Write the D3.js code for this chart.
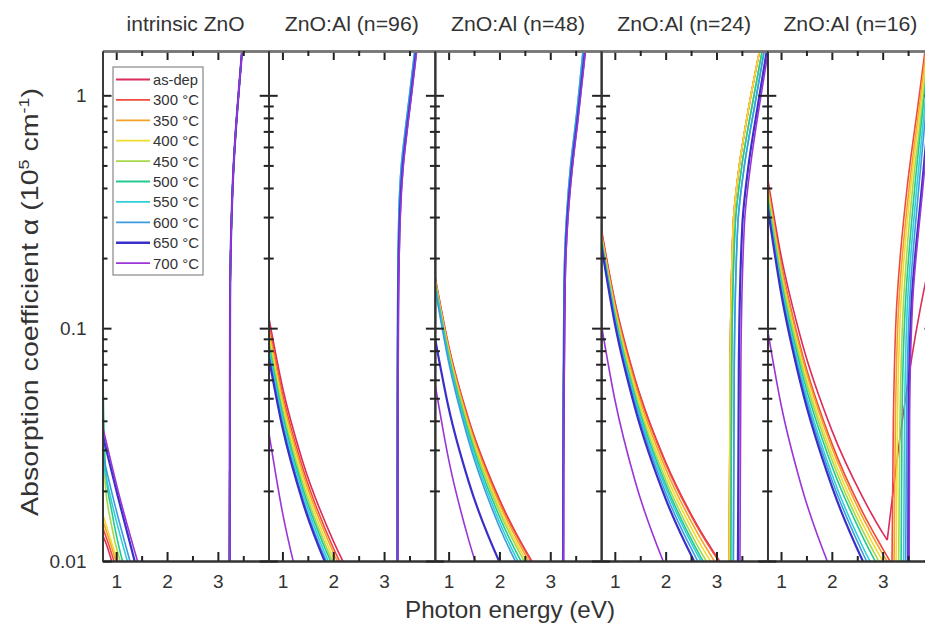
<!DOCTYPE html>
<html>
<head>
<meta charset="utf-8">
<script src="https://cdn.jsdelivr.net/npm/d3@7"></script>
<style>
    body { margin: 0; background: #fff; }
    text { font-family: "Liberation Sans", Arial, sans-serif; fill: #333; }
</style>
</head>
<body>
<div id="chart"></div>
<script>
// series and panels
const seriesNames = ["as-dep", "300 °C", "350 °C", "400 °C", "450 °C", "500 °C", "550 °C", "600 °C", "650 °C", "700 °C"];
const seriesColors = ["#dc2c5a", "#f04a3c", "#f5a02a", "#f0dc30", "#a6d84a", "#25c98f", "#2ecfd8", "#3c9be0", "#3a2fc8", "#9b35d6"];
const panelTitles = ["intrinsic ZnO", "ZnO:Al (n=96)", "ZnO:Al (n=48)", "ZnO:Al (n=24)", "ZnO:Al (n=16)"];

const xTicks = [1, 2, 3];
const xMinorTicks = [1.5, 2.5, 3.5];
const yTicks = [0.01, 0.1, 1];
const yMinorTicks = [0.02, 0.03, 0.04, 0.05, 0.06, 0.07, 0.08, 0.09, 0.2, 0.3, 0.4, 0.5, 0.6, 0.7, 0.8, 0.9];

// free-carrier part [energy eV, alpha 1e5/cm], one list per series
const intrinsicFree = [
    [[0.73, 0.013], [0.83, 0.0114], [0.95, 0.0093]],
    [[0.73, 0.014], [0.85, 0.0118], [1.0, 0.0093]],
    [[0.73, 0.015], [0.87, 0.0122], [1.04, 0.0093]],
    [[0.73, 0.016], [0.88, 0.0126], [1.07, 0.0093]],
    [[0.73, 0.07], [0.745, 0.04], [0.78, 0.022], [0.9, 0.0145], [1.12, 0.0093]],
    [[0.73, 0.085], [0.75, 0.045], [0.79, 0.025], [0.92, 0.016], [1.16, 0.0093]],
    [[0.73, 0.027], [0.95, 0.0165], [1.26, 0.0093]],
    [[0.73, 0.029], [0.98, 0.0172], [1.31, 0.0093]],
    [[0.73, 0.035], [1.03, 0.019], [1.40, 0.0093]],
    [[0.73, 0.038], [1.05, 0.0195], [1.46, 0.0093]]
];
const n96Free = [
    [[0.73, 0.112], [1.0, 0.056], [1.4, 0.0267], [2.0, 0.0122], [2.6, 0.0068]],
    [[0.73, 0.105], [1.0, 0.0525], [1.4, 0.0251], [2.0, 0.0114], [2.6, 0.0064]],
    [[0.73, 0.100], [1.0, 0.0500], [1.4, 0.0239], [2.0, 0.0109], [2.6, 0.0061]],
    [[0.73, 0.095], [1.0, 0.0475], [1.4, 0.0227], [2.0, 0.0103], [2.6, 0.0058]],
    [[0.73, 0.090], [1.0, 0.0450], [1.4, 0.0215], [2.0, 0.0098], [2.6, 0.0055]],
    [[0.73, 0.086], [1.0, 0.0430], [1.4, 0.0205], [2.0, 0.0094], [2.6, 0.0053]],
    [[0.73, 0.082], [1.0, 0.0410], [1.4, 0.0196], [2.0, 0.0089], [2.6, 0.0050]],
    [[0.73, 0.078], [1.0, 0.0390], [1.4, 0.0186], [2.0, 0.0085], [2.6, 0.0048]],
    [[0.73, 0.075], [1.0, 0.0375], [1.4, 0.0179], [2.0, 0.0082], [2.6, 0.0046]],
    [[0.73, 0.036], [1.0, 0.0162], [1.4, 0.0069]]
];
const n48Free = [
    [[0.73, 0.168], [1.0, 0.0842], [1.4, 0.0402], [2.0, 0.0184], [2.6, 0.0103], [3.2, 0.0066]],
    [[0.73, 0.166], [1.0, 0.0831], [1.4, 0.0397], [2.0, 0.0181], [2.6, 0.0102], [3.2, 0.0064]],
    [[0.73, 0.164], [1.0, 0.0817], [1.4, 0.0387], [2.0, 0.0176], [2.6, 0.0098], [3.2, 0.0062]],
    [[0.73, 0.162], [1.0, 0.0800], [1.4, 0.0376], [2.0, 0.0169], [2.6, 0.0094], [3.2, 0.0059]],
    [[0.73, 0.160], [1.0, 0.0784], [1.4, 0.0366], [2.0, 0.0163], [2.6, 0.0090], [3.2, 0.0056]],
    [[0.73, 0.157], [1.0, 0.0762], [1.4, 0.0352], [2.0, 0.0155], [2.6, 0.0085], [3.2, 0.0053]],
    [[0.73, 0.154], [1.0, 0.0740], [1.4, 0.0338], [2.0, 0.0147], [2.6, 0.0080], [3.2, 0.0049]],
    [[0.73, 0.150], [1.0, 0.0716], [1.4, 0.0324], [2.0, 0.0140], [2.6, 0.0076]],
    [[0.73, 0.091], [1.0, 0.0455], [1.4, 0.0217], [2.0, 0.0099], [2.6, 0.0056]],
    [[0.73, 0.058], [1.0, 0.0273], [1.4, 0.0122], [2.0, 0.0052]]
];
const n24Free = [
    [[0.73, 0.270], [1.0, 0.1309], [1.4, 0.0604], [2.0, 0.0266], [2.6, 0.0145], [3.2, 0.0090]],
    [[0.73, 0.265], [1.0, 0.1286], [1.4, 0.0594], [2.0, 0.0262], [2.6, 0.0143], [3.2, 0.0089]],
    [[0.73, 0.260], [1.0, 0.1250], [1.4, 0.0571], [2.0, 0.0249], [2.6, 0.0135], [3.2, 0.0083]],
    [[0.73, 0.255], [1.0, 0.1213], [1.4, 0.0549], [2.0, 0.0236], [2.6, 0.0127], [3.2, 0.0078]],
    [[0.73, 0.250], [1.0, 0.1177], [1.4, 0.0526], [2.0, 0.0224], [2.6, 0.0119], [3.2, 0.0073]],
    [[0.73, 0.245], [1.0, 0.1144], [1.4, 0.0507], [2.0, 0.0214], [2.6, 0.0113], [3.2, 0.0069]],
    [[0.73, 0.240], [1.0, 0.1115], [1.4, 0.0491], [2.0, 0.0206], [2.6, 0.0109], [3.2, 0.0066]],
    [[0.73, 0.235], [1.0, 0.1082], [1.4, 0.0473], [2.0, 0.0196], [2.6, 0.0103], [3.2, 0.0062]],
    [[0.73, 0.230], [1.0, 0.1047], [1.4, 0.0452], [2.0, 0.0185], [2.6, 0.0096], [3.2, 0.0057]],
    [[0.73, 0.105], [1.0, 0.0494], [1.4, 0.0220], [2.0, 0.0094]]
];
const n16Free = [
    [[0.73, 0.450], [1.0, 0.2052], [1.4, 0.0887], [2.0, 0.0364], [2.6, 0.0189], [3.0, 0.0132], [3.09, 0.0123]],
    [[0.73, 0.430], [1.0, 0.1910], [1.4, 0.0802], [2.0, 0.0320], [2.6, 0.0163], [3.0, 0.0113], [3.2, 0.0095]],
    [[0.73, 0.420], [1.0, 0.1855], [1.4, 0.0775], [2.0, 0.0307], [2.6, 0.0155], [3.0, 0.0107], [3.2, 0.0091]],
    [[0.73, 0.400], [1.0, 0.1759], [1.4, 0.0731], [2.0, 0.0288], [2.6, 0.0145], [3.0, 0.0100], [3.2, 0.0085]],
    [[0.73, 0.390], [1.0, 0.1697], [1.4, 0.0698], [2.0, 0.0272], [2.6, 0.0136], [3.0, 0.0093]],
    [[0.73, 0.370], [1.0, 0.1606], [1.4, 0.0659], [2.0, 0.0256], [2.6, 0.0128], [3.0, 0.0087]],
    [[0.73, 0.360], [1.0, 0.1538], [1.4, 0.0620], [2.0, 0.0236], [2.6, 0.0116], [3.0, 0.0079]],
    [[0.73, 0.350], [1.0, 0.1480], [1.4, 0.0590], [2.0, 0.0223], [2.6, 0.0109], [3.0, 0.0073]],
    [[0.73, 0.340], [1.0, 0.1422], [1.4, 0.0561], [2.0, 0.0209], [2.6, 0.0101], [3.0, 0.0068]],
    [[0.73, 0.100], [1.0, 0.0470], [1.4, 0.0210], [2.0, 0.0089]]
];

// band-edge part, one list per series
const intrinsicEdge = [
    [[3.23, 0.008], [3.24, 0.13], [3.27, 0.3], [3.31, 0.5], [3.37, 0.8], [3.42, 1.1], [3.49, 1.7]],
    [[3.23, 0.008], [3.24, 0.13], [3.27, 0.3], [3.31, 0.5], [3.37, 0.8], [3.42, 1.1], [3.49, 1.7]],
    [[3.23, 0.008], [3.24, 0.13], [3.27, 0.3], [3.31, 0.5], [3.37, 0.8], [3.42, 1.1], [3.49, 1.7]],
    [[3.23, 0.008], [3.24, 0.13], [3.27, 0.3], [3.31, 0.5], [3.37, 0.8], [3.42, 1.1], [3.49, 1.7]],
    [[3.23, 0.008], [3.24, 0.13], [3.27, 0.3], [3.31, 0.5], [3.37, 0.8], [3.42, 1.1], [3.49, 1.7]],
    [[3.23, 0.008], [3.24, 0.13], [3.27, 0.3], [3.31, 0.5], [3.37, 0.8], [3.42, 1.1], [3.49, 1.7]],
    [[3.23, 0.008], [3.24, 0.13], [3.27, 0.3], [3.31, 0.5], [3.37, 0.8], [3.42, 1.1], [3.49, 1.7]],
    [[3.23, 0.008], [3.24, 0.13], [3.27, 0.3], [3.31, 0.5], [3.37, 0.8], [3.42, 1.1], [3.49, 1.7]],
    [[3.23, 0.008], [3.24, 0.13], [3.27, 0.3], [3.31, 0.5], [3.37, 0.8], [3.42, 1.1], [3.49, 1.7]],
    [[3.23, 0.008], [3.24, 0.13], [3.27, 0.3], [3.31, 0.5], [3.37, 0.8], [3.42, 1.1], [3.49, 1.7]]
];
const n96Edge = [
    [[3.26, 0.008], [3.27, 0.1], [3.30, 0.3], [3.36, 0.5], [3.45, 0.75], [3.52, 1.0], [3.63, 1.6]],
    [[3.26, 0.008], [3.27, 0.1], [3.30, 0.3], [3.36, 0.5], [3.45, 0.75], [3.52, 1.0], [3.63, 1.6]],
    [[3.26, 0.008], [3.27, 0.1], [3.30, 0.3], [3.36, 0.5], [3.45, 0.75], [3.52, 1.0], [3.63, 1.6]],
    [[3.26, 0.008], [3.27, 0.1], [3.30, 0.3], [3.36, 0.5], [3.45, 0.75], [3.52, 1.0], [3.63, 1.6]],
    [[3.26, 0.008], [3.27, 0.1], [3.30, 0.3], [3.36, 0.5], [3.45, 0.75], [3.52, 1.0], [3.63, 1.6]],
    [[3.26, 0.008], [3.27, 0.1], [3.30, 0.3], [3.36, 0.5], [3.45, 0.75], [3.52, 1.0], [3.63, 1.6]],
    [[3.255, 0.008], [3.265, 0.1], [3.29, 0.3], [3.34, 0.5], [3.43, 0.75], [3.50, 1.0], [3.61, 1.6]],
    [[3.255, 0.008], [3.265, 0.1], [3.29, 0.3], [3.34, 0.5], [3.43, 0.75], [3.50, 1.0], [3.61, 1.6]],
    [[3.265, 0.008], [3.275, 0.1], [3.31, 0.3], [3.37, 0.5], [3.46, 0.75], [3.53, 1.0], [3.64, 1.6]],
    [[3.27, 0.008], [3.28, 0.1], [3.32, 0.3], [3.38, 0.5], [3.47, 0.75], [3.54, 1.0], [3.65, 1.6]]
];
const n48Edge = [
    [[3.25, 0.008], [3.26, 0.05], [3.28, 0.15], [3.33, 0.3], [3.42, 0.5], [3.53, 0.8], [3.68, 1.6]],
    [[3.25, 0.008], [3.26, 0.05], [3.28, 0.15], [3.33, 0.3], [3.42, 0.5], [3.53, 0.8], [3.68, 1.6]],
    [[3.25, 0.008], [3.26, 0.05], [3.28, 0.15], [3.33, 0.3], [3.42, 0.5], [3.53, 0.8], [3.68, 1.6]],
    [[3.25, 0.008], [3.26, 0.05], [3.28, 0.15], [3.33, 0.3], [3.42, 0.5], [3.53, 0.8], [3.68, 1.6]],
    [[3.25, 0.008], [3.26, 0.05], [3.28, 0.15], [3.33, 0.3], [3.42, 0.5], [3.53, 0.8], [3.68, 1.6]],
    [[3.25, 0.008], [3.26, 0.05], [3.28, 0.15], [3.33, 0.3], [3.42, 0.5], [3.53, 0.8], [3.68, 1.6]],
    [[3.245, 0.008], [3.255, 0.05], [3.27, 0.15], [3.32, 0.3], [3.40, 0.5], [3.51, 0.8], [3.65, 1.6]],
    [[3.245, 0.008], [3.255, 0.05], [3.27, 0.15], [3.32, 0.3], [3.40, 0.5], [3.51, 0.8], [3.65, 1.6]],
    [[3.255, 0.008], [3.265, 0.05], [3.285, 0.15], [3.34, 0.3], [3.43, 0.5], [3.54, 0.8], [3.69, 1.6]],
    [[3.26, 0.008], [3.27, 0.05], [3.29, 0.15], [3.35, 0.3], [3.44, 0.5], [3.55, 0.8], [3.70, 1.6]]
];
const n24Edge = [
    [[3.25, 0.008], [3.27, 0.07], [3.33, 0.28], [3.45, 0.5], [3.66, 0.95], [3.86, 1.6]],
    [[3.25, 0.008], [3.27, 0.07], [3.33, 0.28], [3.45, 0.5], [3.66, 0.95], [3.86, 1.6]],
    [[3.25, 0.008], [3.27, 0.07], [3.33, 0.28], [3.45, 0.5], [3.66, 0.95], [3.86, 1.6]],
    [[3.25, 0.008], [3.27, 0.07], [3.33, 0.28], [3.45, 0.5], [3.66, 0.95], [3.86, 1.6]],
    [[3.28, 0.008], [3.30, 0.07], [3.37, 0.28], [3.50, 0.5], [3.72, 0.95], [3.91, 1.6]],
    [[3.28, 0.008], [3.30, 0.07], [3.37, 0.28], [3.50, 0.5], [3.72, 0.95], [3.91, 1.6]],
    [[3.33, 0.008], [3.35, 0.07], [3.42, 0.28], [3.55, 0.5], [3.77, 0.95], [3.95, 1.6]],
    [[3.33, 0.008], [3.35, 0.07], [3.42, 0.28], [3.55, 0.5], [3.77, 0.95], [3.95, 1.6]],
    [[3.42, 0.008], [3.44, 0.07], [3.51, 0.28], [3.63, 0.5], [3.83, 0.95], [4.00, 1.6]],
    [[3.46, 0.008], [3.48, 0.07], [3.55, 0.28], [3.67, 0.5], [3.86, 0.95], [4.03, 1.6]]
];
const n16Edge = [
    [[3.09, 0.0123], [3.25, 0.024], [3.45, 0.05], [3.67, 0.1], [3.85, 0.16], [4.0, 0.22]],
    [[3.18, 0.008], [3.21, 0.04], [3.28, 0.13], [3.48, 0.4], [3.72, 1.0], [3.84, 1.6]],
    [[3.22, 0.008], [3.25, 0.04], [3.32, 0.13], [3.52, 0.4], [3.75, 1.0], [3.86, 1.6]],
    [[3.26, 0.008], [3.29, 0.04], [3.36, 0.13], [3.55, 0.4], [3.77, 1.0], [3.88, 1.6]],
    [[3.31, 0.008], [3.34, 0.04], [3.41, 0.13], [3.59, 0.4], [3.80, 1.0], [3.90, 1.6]],
    [[3.36, 0.008], [3.38, 0.04], [3.45, 0.13], [3.63, 0.4], [3.82, 1.0], [3.92, 1.6]],
    [[3.41, 0.008], [3.43, 0.04], [3.49, 0.13], [3.67, 0.4], [3.85, 1.0], [3.95, 1.6]],
    [[3.45, 0.008], [3.47, 0.04], [3.53, 0.13], [3.71, 0.4], [3.88, 1.0], [3.98, 1.6]],
    [[3.50, 0.008], [3.51, 0.04], [3.57, 0.13], [3.77, 0.4], [3.94, 1.0], [4.03, 1.6]],
    [[3.52, 0.008], [3.53, 0.04], [3.59, 0.13], [3.79, 0.4], [3.96, 1.0], [4.05, 1.6]]
];

const panelFree = [intrinsicFree, n96Free, n48Free, n24Free, n16Free];
const panelEdge = [intrinsicEdge, n96Edge, n48Edge, n24Edge, n16Edge];

// layout
const W = 925, H = 632;
const plotLeft = 102.5, plotTop = 51, panelW = 166.2, panelH = 510;

const svg = d3.select("#chart").append("svg")
    .attr("width", W)
    .attr("height", H);

svg.append("defs").append("clipPath")
    .attr("id", "clip")
    .append("rect")
    .attr("width", panelW)
    .attr("height", panelH);

const x = d3.scaleLinear().domain([0.73, 4.0]).range([0, panelW]);
const y = d3.scaleLog().domain([0.01, 1.55]).range([panelH, 0]);

// free-carrier tails vary smoothly in x, band edges in y
const freeLine = d3.line()
    .x(d => x(d[0]))
    .y(d => y(d[1]))
    .curve(d3.curveMonotoneX);
const edgeLine = d3.line()
    .x(d => x(d[0]))
    .y(d => y(d[1]))
    .curve(d3.curveMonotoneY);

function styleAxis(g, w) {
    g.select(".domain").attr("stroke", "#333").attr("stroke-width", w);
    g.selectAll(".tick line").attr("stroke", "#222").attr("stroke-width", 2);
    g.selectAll(".tick text").attr("font-size", 19).attr("fill", "#333");
}

panelTitles.forEach((title, p) => {
    const g = svg.append("g")
        .attr("transform", `translate(${plotLeft + p * panelW},${plotTop})`);

    // curves
    const plot = g.append("g").attr("clip-path", "url(#clip)");
    seriesNames.forEach((name, s) => {
        const w = s === 8 ? 2.2 : 1.6;
        plot.append("path")
            .attr("d", freeLine(panelFree[p][s]))
            .attr("fill", "none")
            .attr("stroke", seriesColors[s])
            .attr("stroke-width", w);
        plot.append("path")
            .attr("d", edgeLine(panelEdge[p][s]))
            .attr("fill", "none")
            .attr("stroke", seriesColors[s])
            .attr("stroke-width", w);
    });

    // axes, ticks point inward
    const bottom = g.append("g").attr("transform", `translate(0,${panelH})`)
        .call(d3.axisBottom(x).tickValues(xTicks).tickSizeInner(-9).tickSizeOuter(0).tickPadding(14)
            .tickFormat(d3.format("d")));
    styleAxis(bottom, 2);
    const bottomMinor = g.append("g").attr("transform", `translate(0,${panelH})`)
        .call(d3.axisBottom(x).tickValues(xMinorTicks).tickSizeInner(-5).tickSizeOuter(0).tickFormat(""));
    styleAxis(bottomMinor, 2);

    const topAxis = g.append("g")
        .call(d3.axisTop(x).tickValues(xTicks).tickSizeInner(-9).tickSizeOuter(0).tickFormat(""));
    styleAxis(topAxis, 2.5);
    topAxis.select(".domain").attr("stroke", "#777");
    const topMinor = g.append("g")
        .call(d3.axisTop(x).tickValues(xMinorTicks).tickSizeInner(-5).tickSizeOuter(0).tickFormat(""));
    styleAxis(topMinor, 2.5);
    topMinor.select(".domain").attr("stroke", "#777");

    const leftAxis = g.append("g")
        .call(d3.axisLeft(y).tickValues(yTicks).tickSizeInner(-9).tickSizeOuter(0).tickPadding(p === 0 ? 16 : 0)
            .tickFormat(p === 0 ? d3.format("~g") : ""));
    styleAxis(leftAxis, 1.6);
    const leftMinor = g.append("g")
        .call(d3.axisLeft(y).tickValues(yMinorTicks).tickSizeInner(-5).tickSizeOuter(0).tickFormat(""));
    styleAxis(leftMinor, 1.6);

    const rightAxis = g.append("g").attr("transform", `translate(${panelW},0)`)
        .call(d3.axisRight(y).tickValues(yTicks).tickSizeInner(-9).tickSizeOuter(0).tickFormat(""));
    styleAxis(rightAxis, 1.6);
    const rightMinor = g.append("g").attr("transform", `translate(${panelW},0)`)
        .call(d3.axisRight(y).tickValues(yMinorTicks).tickSizeInner(-5).tickSizeOuter(0).tickFormat(""));
    styleAxis(rightMinor, 1.6);

    // panel title
    svg.append("text")
        .attr("x", plotLeft + p * panelW + panelW / 2)
        .attr("y", 31)
        .attr("text-anchor", "middle")
        .attr("font-size", 20.5)
        .attr("textLength", p === 0 ? 118 : 134)
        .attr("lengthAdjust", "spacingAndGlyphs")
        .text(title);
});

// legend inside the first panel
const legend = svg.append("g").attr("transform", "translate(113,67)");
legend.append("rect")
    .attr("width", 90)
    .attr("height", 208)
    .attr("fill", "#fff")
    .attr("stroke", "#888")
    .attr("stroke-width", 1.2);
seriesNames.forEach((name, s) => {
    const row = legend.append("g").attr("transform", `translate(0,${12.5 + s * 20.4})`);
    row.append("line")
        .attr("x1", 3).attr("x2", 37)
        .attr("stroke", seriesColors[s])
        .attr("stroke-width", s === 8 ? 2.4 : 1.8);
    row.append("text")
        .attr("x", 40)
        .attr("y", 5.5)
        .attr("font-size", 15)
        .attr("textLength", name === "as-dep" ? 45 : 46)
        .attr("lengthAdjust", "spacingAndGlyphs")
        .text(name);
});

// axis titles
svg.append("text")
    .attr("x", 510)
    .attr("y", 618)
    .attr("text-anchor", "middle")
    .attr("font-size", 24)
    .attr("textLength", 210)
    .attr("lengthAdjust", "spacingAndGlyphs")
    .text("Photon energy (eV)");

const yTitle = svg.append("text")
    .attr("transform", "translate(38,302) rotate(-90)")
    .attr("text-anchor", "middle")
    .attr("font-size", 24)
    .attr("textLength", 428)
    .attr("lengthAdjust", "spacingAndGlyphs");
yTitle.append("tspan").text("Absorption coefficient α (10");
yTitle.append("tspan").attr("dy", -9).attr("font-size", 15).text("5");
yTitle.append("tspan").attr("dy", 9).text(" cm");
yTitle.append("tspan").attr("dy", -9).attr("font-size", 15).text("-1");
yTitle.append("tspan").attr("dy", 9).text(")");
</script>
</body>
</html>
